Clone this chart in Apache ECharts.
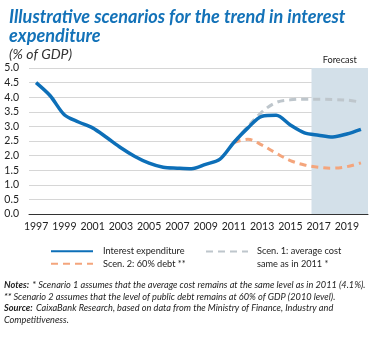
<!DOCTYPE html>
<html><head><meta charset="utf-8">
<script src="https://cdn.jsdelivr.net/npm/echarts@6/dist/echarts.min.js"></script>
<style>html,body{margin:0;padding:0;background:#fff}#c{width:379px;height:338px}</style>
</head><body><div id="c"></div>
<script>
const years = ['1997','1998','1999','2000','2001','2002','2003','2004','2005','2006','2007','2008','2009','2010','2011','2012','2013','2014','2015','2016','2017','2018','2019','2020'];
const interestExp = [4.5,4.05,3.4,3.15,2.95,2.62,2.27,1.97,1.74,1.6,1.57,1.55,1.7,1.87,2.45,2.95,3.35,3.38,3.05,2.78,2.7,2.64,2.74,2.9];
const scen1 = [null,null,null,null,null,null,null,null,null,null,null,null,null,null,2.45,3.0,3.5,3.82,3.91,3.93,3.93,3.92,3.9,3.83];
const scen2 = [null,null,null,null,null,null,null,null,null,null,null,null,null,null,2.45,2.56,2.36,2.08,1.83,1.68,1.6,1.57,1.62,1.75];
const yTicks = {min:0, max:5, interval:0.5};
const forecastStart = 2016.5, forecastEnd = 2020.5;   // year boundaries of the shaded band
const yearSpan = [1996.5, 2020.5];

const FONT = 'Lato, "Noto Sans", sans-serif';
const cv = document.createElement('canvas').getContext('2d');
function fit(text, style, target, base) {
  cv.font = style + ' ' + base + 'px ' + FONT;
  const w = cv.measureText(text).width;
  return Math.round(base * target / w * 10) / 10;
}
const noteLine1 = '* Scenario 1 assumes that the average cost remains at the same level as in 2011 (4.1%).';
const noteSize = fit('Notes: ' + noteLine1, 'italic', 362, 10);
const legSize = fit('Interest expenditure', 'normal', 82, 11);
const axSize = 10.5;
const titleSize = fit('Illustrative scenarios for the trend in interest', 'italic bold', 336, 17);

const chart = echarts.init(document.getElementById('c'), null, {renderer:'canvas'});
chart.setOption({
  animation:false,
  title:[{
    text:'Illustrative scenarios for the trend in interest\nexpenditure',
    left:4, top:3,
    textStyle:{fontFamily:FONT, fontStyle:'italic', fontWeight:'bold', fontSize:titleSize, lineHeight:19, color:'#1372b8'}
  },{
    text:'(% of GDP)', left:4, top:42,
    textStyle:{fontFamily:FONT, fontStyle:'italic', fontWeight:'normal', fontSize:14, color:'#333'}
  }],
  grid:{left:29, right:11, top:68, bottom:124, containLabel:false},
  xAxis:[{type:'category', data:years, boundaryGap:true,
    axisLine:{lineStyle:{color:'#333', width:1}},
    axisTick:{interval:1, length:3, lineStyle:{color:'#333'}},
    axisLabel:{interval:1, color:'#222', fontSize:axSize, fontFamily:FONT, margin:7}},
   {type:'value', min:yearSpan[0], max:yearSpan[1], show:false, position:'bottom'}],
  yAxis:{type:'value', min:yTicks.min, max:yTicks.max, interval:yTicks.interval,
    axisLine:{show:false}, axisTick:{show:false},
    axisLabel:{color:'#222', fontSize:axSize, fontFamily:FONT, margin:10, formatter:v=>v.toFixed(1)},
    splitLine:{lineStyle:{color:'#d6d6d6', width:1}}},
  legend:[{
    left:50, top:245, orient:'vertical', itemGap:0, itemWidth:42, itemHeight:8, padding:0,
    itemStyle:{opacity:0},
    data:['Interest expenditure','Scen. 2: 60% debt **'],
    textStyle:{fontSize:legSize, color:'#222', fontFamily:FONT, lineHeight:12.5, padding:[0,0,0,5]}
  },{
    left:205, top:232, orient:'vertical', itemWidth:42, itemHeight:8, padding:0,
    itemStyle:{opacity:0},
    data:['Scen. 1: average cost same as in 2011 *'],
    formatter:()=> ' \nScen. 1: average cost\nsame as in 2011 *',
    textStyle:{fontSize:legSize, color:'#222', fontFamily:FONT, lineHeight:13, padding:[0,0,0,4]}
  }],
  series:[{
    name:'forecast-band', type:'line', xAxisIndex:1, data:[], silent:true,
    markArea:{silent:true, itemStyle:{color:'#d3e0e9'},
      label:{show:true, position:'top', distance:3, color:'#222', fontSize:legSize, fontFamily:FONT},
      data:[[{name:'Forecast', xAxis:forecastStart},{xAxis:forecastEnd}]]}
  },{
    name:'Scen. 1: average cost same as in 2011 *', type:'line', data:scen1, smooth:0.35, symbol:'none', z:2,
    lineStyle:{color:'#bec6cc', width:3, type:[7,5]}, itemStyle:{color:'#bec6cc'}
  },{
    name:'Scen. 2: 60% debt **', type:'line', data:scen2, smooth:0.35, symbol:'none', z:3,
    lineStyle:{color:'#f4a57c', width:3, type:[7,5]}, itemStyle:{color:'#f4a57c'}
  },{
    name:'Interest expenditure', type:'line', data:interestExp, smooth:0.3, symbol:'none', z:4,
    lineStyle:{color:'#0d6fb8', width:3.5}, itemStyle:{color:'#0d6fb8'}
  }],
  graphic:[{
    type:'text', left:4, top:279,
    style:{
      text:'{b|Notes:} {i|' + noteLine1 + '}\n{i|** Scenario 2 assumes that the level of public debt remains at 60% of GDP (2010 level).}\n{b|Source:} {i|CaixaBank Research, based on data from the Ministry of Finance, Industry and}\n{i|Competitiveness.}',
      rich:{
        b:{fontFamily:FONT, fontStyle:'italic', fontWeight:'bold', fontSize:noteSize, lineHeight:11.5, fill:'#222'},
        i:{fontFamily:FONT, fontStyle:'italic', fontSize:noteSize, lineHeight:11.5, fill:'#222'}
      }
    }
  }]
});
</script></body></html>
